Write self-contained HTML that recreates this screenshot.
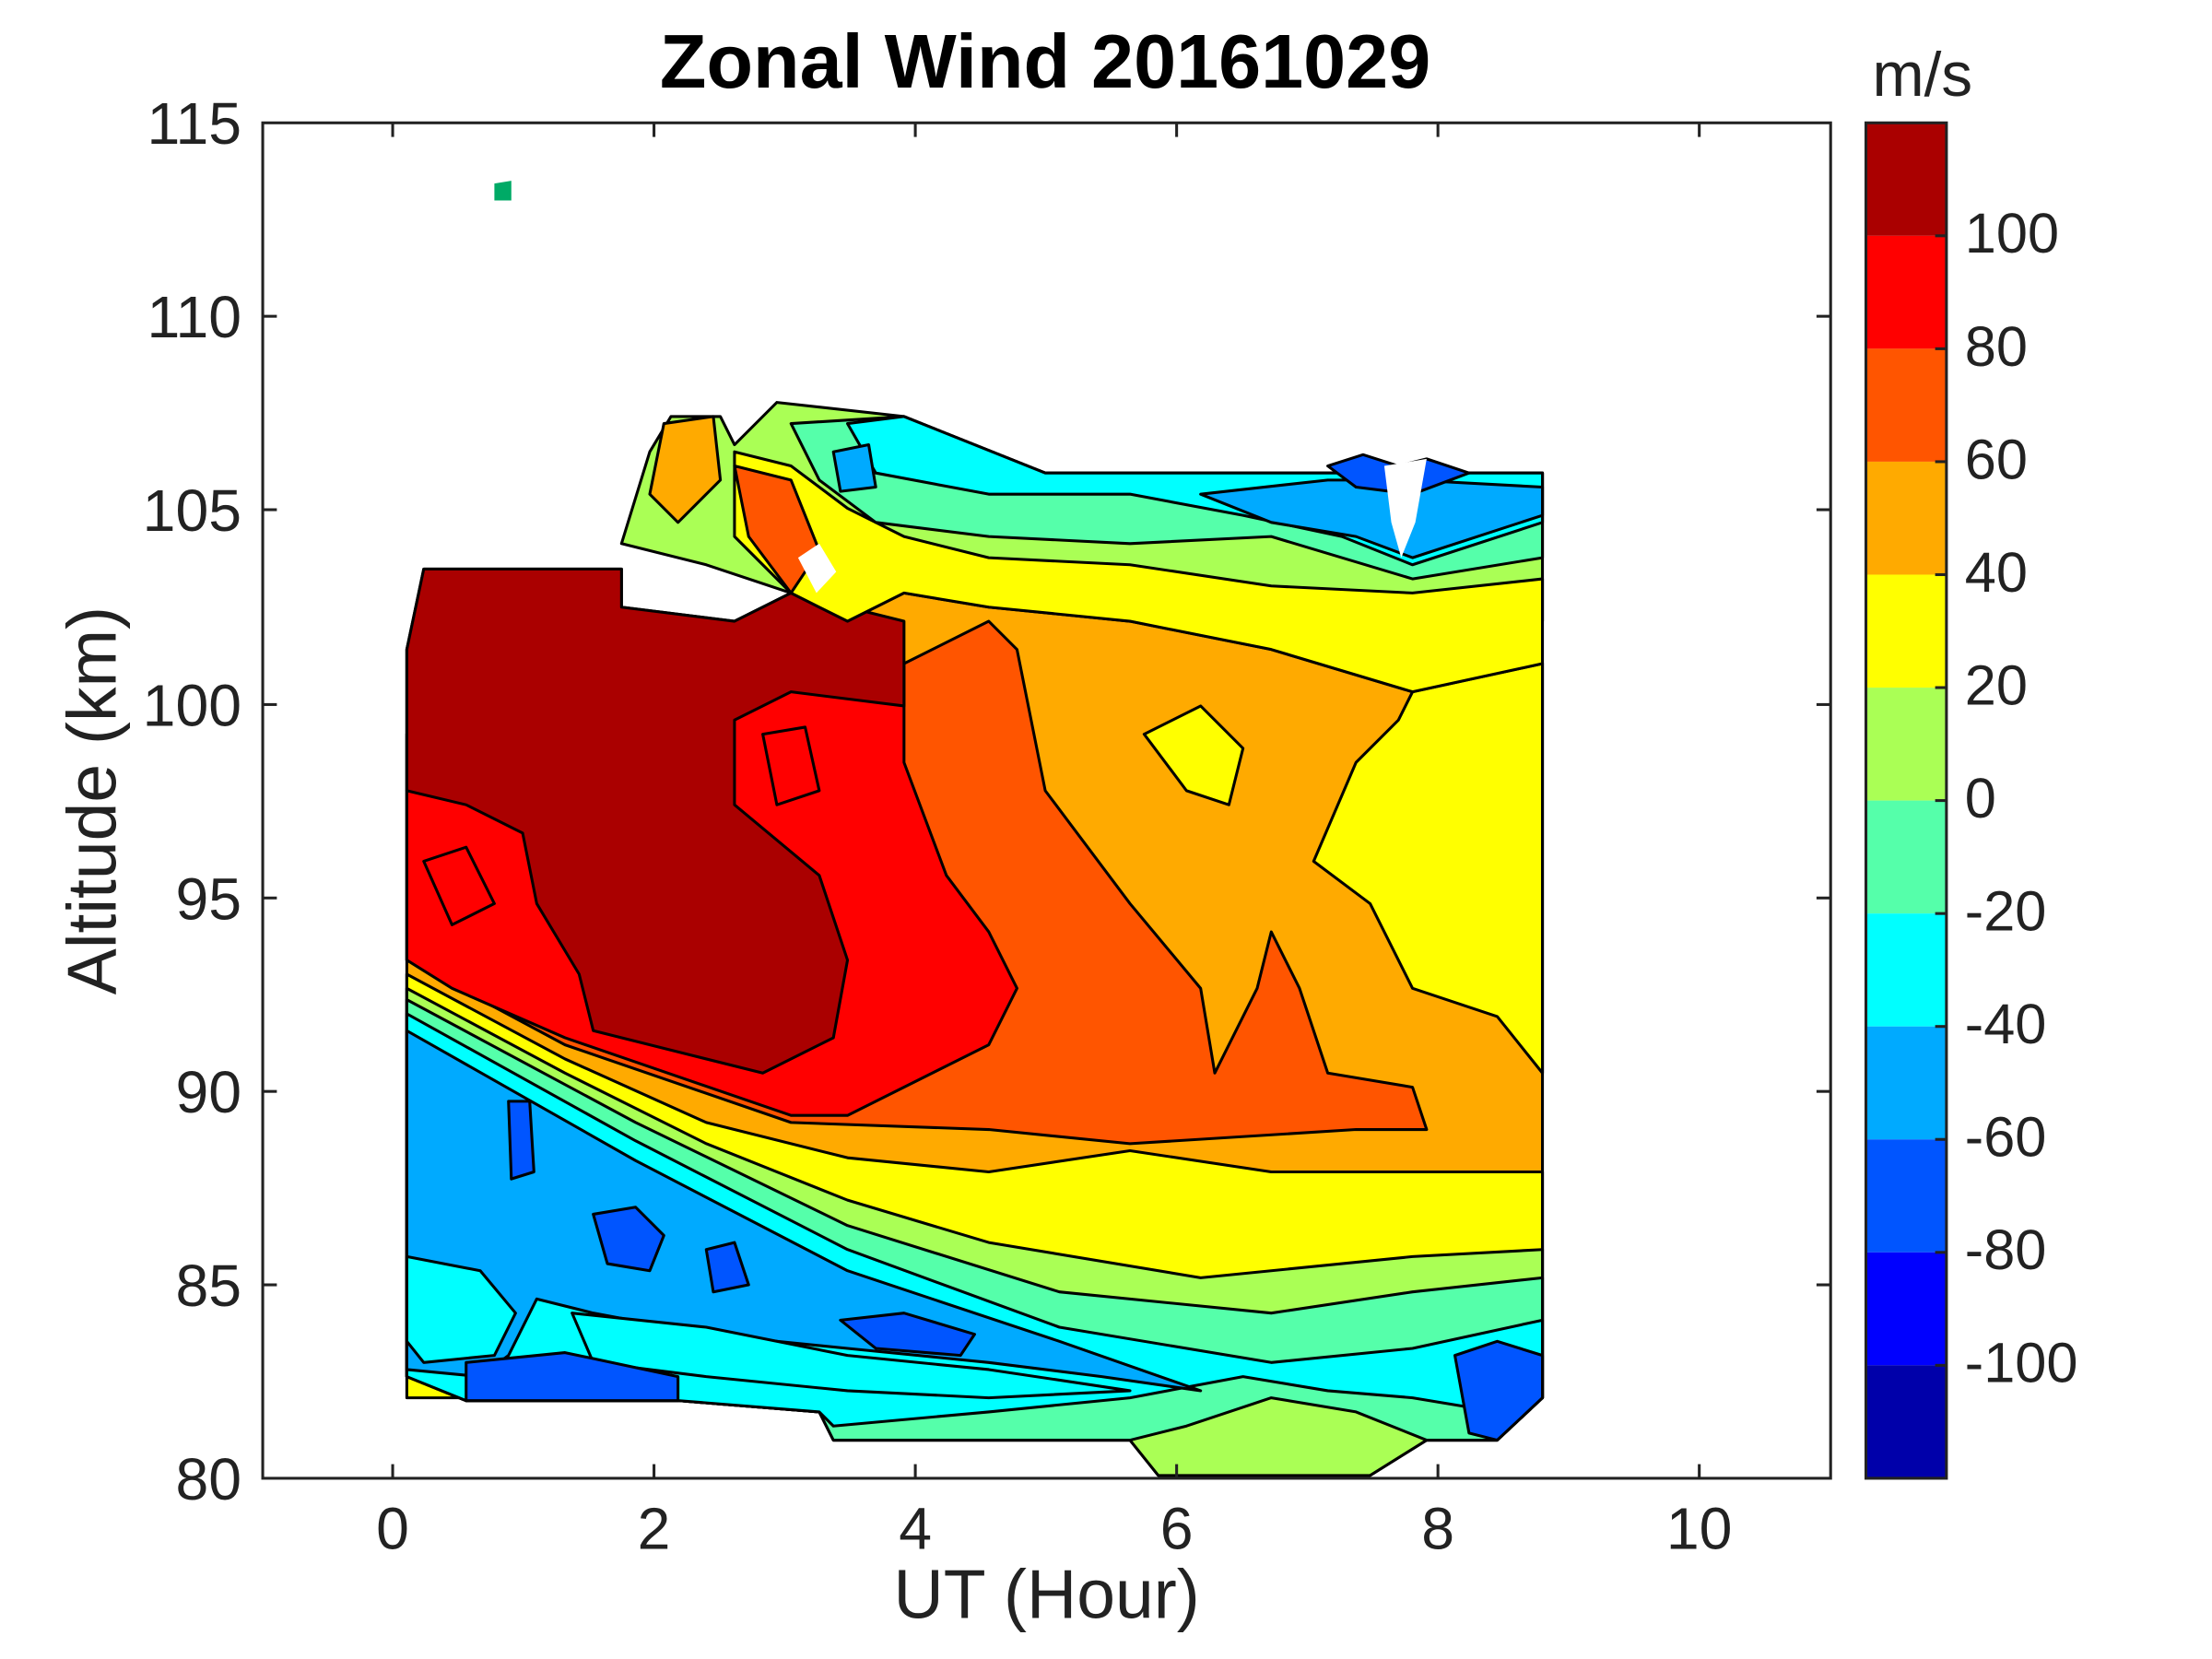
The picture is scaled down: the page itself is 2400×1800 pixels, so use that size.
<!DOCTYPE html>
<html><head><meta charset="utf-8"><style>
html,body{margin:0;padding:0;background:#fff;}
svg{display:block;}
text{font-family:"Liberation Sans",Arial,sans-serif;fill:#222;}
</style></head><body>
<svg width="2400" height="1800" viewBox="0 0 1566 1175" preserveAspectRatio="none" xmlns="http://www.w3.org/2000/svg">
<rect width="1566" height="1175" fill="#fff"/>
<g stroke="#000" stroke-width="2" stroke-linejoin="round">
<polygon fill="#ffaa00" points="288,460 300,403 440,403 440,430 520,440 560,420 600,430 640,420 700,430 800,440 900,460 1000,490 1092,470 1092,990 1060,1020 1010,1020 970,1045 820,1045 800,1020 590,1020 580,1000 480,992 330,992 288,975"/>
<polygon fill="#ffff00" points="1000,490 1092,470 1092,760 1060,720 1000,700 970,640 930,610 960,540 990,510"/>
<polygon fill="#ffff00" points="810,520 850,500 880,530 870,570 840,560"/>
<polygon fill="#ffff00" points="288,690 400,750 500,795 600,820 700,830 800,815 900,830 1000,830 1092,830 1092,990 288,990"/>
<polygon fill="#aaff55" points="288,700 400,760 500,810 600,850 700,880 850,905 1000,890 1092,885 1092,990 1060,1020 1010,1020 970,1045 820,1045 800,1020 590,1020 580,1000 480,992 330,992 288,975"/>
<polygon fill="#55ffaa" points="288,708 450,795 600,868 750,915 900,930 1000,915 1092,905 1092,990 1060,1020 1010,1020 960,1000 900,990 840,1010 800,1020 590,1020 580,1000 480,992 330,992 288,975"/>
<polygon fill="#00ffff" points="288,718 450,808 600,885 750,940 900,965 1000,955 1092,935 1092,990 1060,1000 1000,990 940,985 880,975 800,990 700,1000 590,1010 580,1000 480,992 330,992 288,975"/>
<polygon fill="#00aaff" points="288,730 450,822 600,900 750,950 850,985 780,975 700,965 600,955 500,945 420,930 380,920 360,960 340,975 288,970"/>
<polygon fill="#00ffff" points="288,890 340,900 365,930 350,960 300,965 288,950"/>
<polygon fill="#00ffff" points="405,930 500,940 600,960 700,970 800,985 700,990 600,985 500,975 420,965"/>
<polygon fill="#0055ff" points="420,860 450,855 470,875 460,900 430,895"/>
<polygon fill="#0055ff" points="330,965 400,958 480,975 480,992 330,992"/>
<polygon fill="#0055ff" points="595,935 640,930 690,945 680,960 620,955"/>
<polygon fill="#0055ff" points="360,780 375,780 378,830 362,835"/>
<polygon fill="#0055ff" points="500,885 520,880 530,910 505,915"/>
<polygon fill="#0055ff" points="1030,960 1060,950 1092,960 1092,990 1060,1020 1040,1015"/>
<polygon fill="#ff5500" points="288,560 640,470 700,440 720,460 740,560 800,640 850,700 860,760 890,700 900,660 920,700 940,760 1000,770 1010,800 960,800 800,810 700,800 560,795 400,740 288,680"/>
<polygon fill="#ff0000" points="288,520 640,470 640,540 670,620 700,660 720,700 700,740 600,790 560,790 400,735 320,700 288,680"/>
<polygon fill="#aa0000" points="288,460 300,403 440,403 440,430 520,440 560,420 600,430 640,440 640,500 560,490 520,510 520,570 580,620 600,680 590,735 540,760 420,730 410,690 380,640 370,590 330,570 288,560"/>
<polygon fill="#ff0000" points="300,610 330,600 350,640 320,655"/>
<polygon fill="#ff0000" points="540,520 570,515 580,560 550,570"/>
<polygon fill="#aaff55" points="440,385 460,320 475,295 510,295 520,315 550,285 640,295 740,335 1092,335 1092,440 1000,460 900,440 800,430 700,420 640,420 600,440 560,420 500,400"/>
<polygon fill="#ffff00" points="520,320 560,330 600,360 640,380 700,395 800,400 900,415 1000,420 1092,410 1092,470 1000,490 900,460 800,440 700,430 640,420 600,440 560,420 520,380"/>
<polygon fill="#ffaa00" points="470,300 505,295 510,340 480,370 460,350"/>
<polygon fill="#ff5500" points="520,330 560,340 580,390 560,420 530,380"/>
<polygon fill="#55ffaa" points="560,300 640,295 740,335 1092,335 1092,395 1000,410 900,380 800,385 700,380 620,370 580,340"/>
<polygon fill="#00ffff" points="600,300 640,295 740,335 1092,335 1092,370 1000,400 950,380 880,365 800,350 700,350 620,335"/>
<polygon fill="#00aaff" points="850,350 940,340 1000,340 1092,345 1092,365 1000,395 960,380 900,370"/>
<polygon fill="#0055ff" points="940,330 965,322 990,330 1010,325 1040,335 1000,350 960,345"/>
<polygon fill="#00aaff" points="590,320 615,315 620,345 595,348"/>
</g>
<g fill="#fff">
<polygon points="565,395 580,385 592,405 578,420"/>
<polygon points="980,330 1010,325 1002,370 992,395 985,370"/>
<polygon points="350,130 362,128 362,142 350,142" fill="#0a6"/>
</g>
<rect x="186" y="87" width="1110" height="960" fill="none" stroke="#222" stroke-width="2"/>
<g stroke="#222" stroke-width="2">
<line x1="278" y1="1047" x2="278" y2="1037"/><line x1="278" y1="87" x2="278" y2="97"/>
<line x1="463" y1="1047" x2="463" y2="1037"/><line x1="463" y1="87" x2="463" y2="97"/>
<line x1="648" y1="1047" x2="648" y2="1037"/><line x1="648" y1="87" x2="648" y2="97"/>
<line x1="833" y1="1047" x2="833" y2="1037"/><line x1="833" y1="87" x2="833" y2="97"/>
<line x1="1018" y1="1047" x2="1018" y2="1037"/><line x1="1018" y1="87" x2="1018" y2="97"/>
<line x1="1203" y1="1047" x2="1203" y2="1037"/><line x1="1203" y1="87" x2="1203" y2="97"/>
<line x1="186" y1="910" x2="196" y2="910"/><line x1="1296" y1="910" x2="1286" y2="910"/>
<line x1="186" y1="773" x2="196" y2="773"/><line x1="1296" y1="773" x2="1286" y2="773"/>
<line x1="186" y1="636" x2="196" y2="636"/><line x1="1296" y1="636" x2="1286" y2="636"/>
<line x1="186" y1="499" x2="196" y2="499"/><line x1="1296" y1="499" x2="1286" y2="499"/>
<line x1="186" y1="361" x2="196" y2="361"/><line x1="1296" y1="361" x2="1286" y2="361"/>
<line x1="186" y1="224" x2="196" y2="224"/><line x1="1296" y1="224" x2="1286" y2="224"/>
</g>
<g font-size="42" text-anchor="middle">
<text x="278" y="1097">0</text><text x="463" y="1097">2</text><text x="648" y="1097">4</text>
<text x="833" y="1097">6</text><text x="1018" y="1097">8</text><text x="1203" y="1097">10</text>
</g>
<g font-size="42" text-anchor="end">
<text x="171" y="1062">80</text><text x="171" y="925">85</text><text x="171" y="788">90</text>
<text x="171" y="651">95</text><text x="171" y="514">100</text><text x="171" y="376">105</text>
<text x="171" y="239">110</text><text x="171" y="102">115</text>
</g>
<text x="740" y="62" font-size="54" font-weight="bold" text-anchor="middle" style="fill:#000">Zonal Wind 20161029</text>
<text x="741" y="1146" font-size="49" text-anchor="middle">UT (Hour)</text>
<text transform="translate(82,567) rotate(-90)" font-size="49" text-anchor="middle">Altitude (km)</text>
<g>
<rect x="1321" y="87" width="57" height="80" fill="#aa0000"/>
<rect x="1321" y="167" width="57" height="80" fill="#ff0000"/>
<rect x="1321" y="247" width="57" height="80" fill="#ff5500"/>
<rect x="1321" y="327" width="57" height="80" fill="#ffaa00"/>
<rect x="1321" y="407" width="57" height="80" fill="#ffff00"/>
<rect x="1321" y="487" width="57" height="80" fill="#aaff55"/>
<rect x="1321" y="567" width="57" height="80" fill="#55ffaa"/>
<rect x="1321" y="647" width="57" height="80" fill="#00ffff"/>
<rect x="1321" y="727" width="57" height="80" fill="#00aaff"/>
<rect x="1321" y="807" width="57" height="80" fill="#0055ff"/>
<rect x="1321" y="887" width="57" height="80" fill="#0000ff"/>
<rect x="1321" y="967" width="57" height="80" fill="#0000aa"/>
<rect x="1321" y="87" width="57" height="960" fill="none" stroke="#222" stroke-width="2"/>
</g>
<g stroke="#222" stroke-width="2">
<line x1="1370" y1="167" x2="1378" y2="167"/><line x1="1370" y1="247" x2="1378" y2="247"/>
<line x1="1370" y1="327" x2="1378" y2="327"/><line x1="1370" y1="407" x2="1378" y2="407"/>
<line x1="1370" y1="487" x2="1378" y2="487"/><line x1="1370" y1="567" x2="1378" y2="567"/>
<line x1="1370" y1="647" x2="1378" y2="647"/><line x1="1370" y1="727" x2="1378" y2="727"/>
<line x1="1370" y1="807" x2="1378" y2="807"/><line x1="1370" y1="887" x2="1378" y2="887"/>
<line x1="1370" y1="967" x2="1378" y2="967"/>
</g>
<g font-size="40">
<text x="1391" y="179">100</text><text x="1391" y="259">80</text><text x="1391" y="339">60</text>
<text x="1391" y="419">40</text><text x="1391" y="499">20</text><text x="1391" y="579">0</text>
<text x="1391" y="659">-20</text><text x="1391" y="739">-40</text><text x="1391" y="819">-60</text>
<text x="1391" y="899">-80</text><text x="1391" y="979">-100</text>
</g>
<text x="1361" y="68" font-size="44" text-anchor="middle">m/s</text>
</svg>
</body></html>
